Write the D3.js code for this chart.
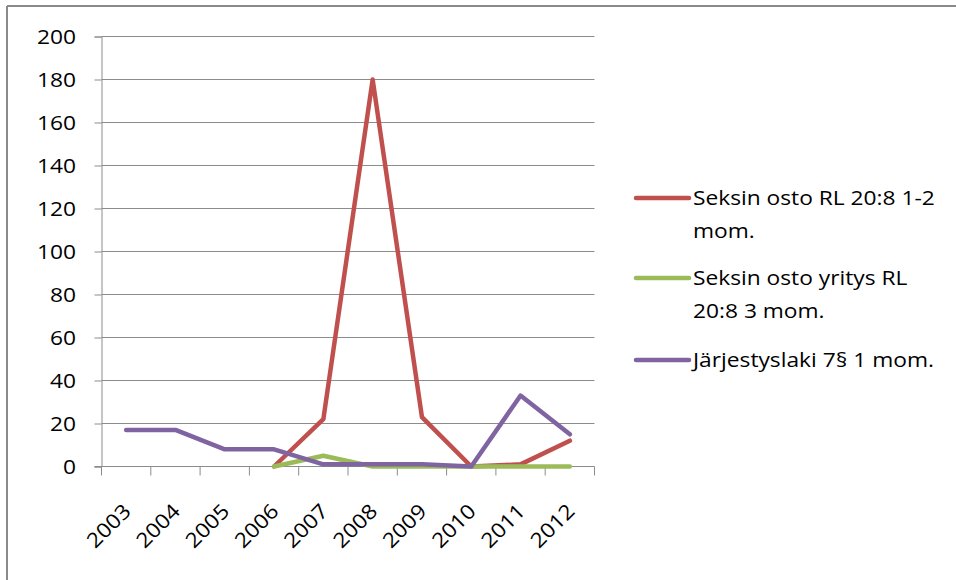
<!DOCTYPE html>
<html><head><meta charset="utf-8">
<script src="https://cdn.jsdelivr.net/npm/d3@7"></script>
<style>
html,body{margin:0;padding:0;background:#fff;}
svg{display:block;}
text{font-family:"Open Sans","Noto Sans",sans-serif;fill:#000;}
</style></head>
<body>
<script>
const years = ["2003","2004","2005","2006","2007","2008","2009","2010","2011","2012"];
const seriesNames = ["Seksin osto RL 20:8 1-2 mom.", "Seksin osto yritys RL 20:8 3 mom.", "Järjestyslaki 7§ 1 mom."];
const legendLines = [["Seksin osto RL 20:8 1-2","mom."],["Seksin osto yritys RL","20:8 3 mom."],["Järjestyslaki 7§ 1 mom."]];
const seksinOsto = [null,null,null,0,22,180,23,0,1,12];
const seksinOstoYritys = [null,null,null,0,5,0,0,0,0,0];
const jarjestyslaki = [17,17,8,8,1,1,1,0,33,15];
const colors = ["#C0504D","#9BBB59","#8064A2"];
const yTicks = [0,20,40,60,80,100,120,140,160,180,200];

(function(){
const W=956,H=580,FS=20.5,SX=1.11;
const svg=d3.select("body").append("svg").attr("width",W).attr("height",H);
svg.append("rect").attr("width",W).attr("height",H).attr("fill","#fff");
svg.append("line").attr("x1",7).attr("x2",W).attr("y1",6).attr("y2",6).attr("stroke","#8a8a8a").attr("stroke-width",2);
svg.append("line").attr("x1",7).attr("x2",7).attr("y1",6).attr("y2",H).attr("stroke","#8a8a8a").attr("stroke-width",2);

const pl=101.5,pr=594.5,pt=36.5,pb=466.5;
const x=d3.scaleBand().domain(years).range([pl,pr]);
const y=d3.scaleLinear().domain([0,200]).range([pb,pt]);

svg.append("g").selectAll("line").data(yTicks.filter(d=>d>0)).join("line")
  .attr("x1",pl).attr("x2",pr).attr("y1",d=>y(d)).attr("y2",d=>y(d))
  .attr("stroke","#8c8c8c").attr("stroke-width",1);

const yAxis=d3.axisLeft(y).tickValues(yTicks).tickSize(7).tickPadding(17);
const gy=svg.append("g").attr("transform",`translate(${pl},0)`).call(yAxis);
gy.select(".domain").attr("stroke","#8c8c8c");
gy.selectAll(".tick line").attr("stroke","#8c8c8c");
gy.selectAll("text").attr("x",0).attr("transform",`translate(-25.5,0) scale(${SX},1)`)
  .attr("font-size",FS).attr("font-family",'"Open Sans",sans-serif').attr("fill","#000");

const xAxis=d3.axisBottom(x).tickSize(0).tickFormat("");
const gx=svg.append("g").attr("transform",`translate(0,${pb})`).call(xAxis);
gx.select(".domain").attr("stroke","#8c8c8c").attr("d",`M${pl-7},0H${pr}`);
const bounds=years.map(d=>x(d)).concat([x(years[years.length-1])+x.bandwidth()]);
gx.selectAll("line.bt").data(bounds).join("line").attr("class","bt")
  .attr("x1",d=>d).attr("x2",d=>d).attr("y1",0).attr("y2",9).attr("stroke","#8c8c8c");
gx.selectAll("text.xl").data(years).join("text").attr("class","xl")
  .attr("transform",d=>`translate(${x(d)+x.bandwidth()/2+6},46) rotate(-45) scale(${SX},1)`)
  .attr("text-anchor","end").attr("font-size",FS).text(d=>d);

const allSeries=[seksinOsto,seksinOstoYritys,jarjestyslaki];
const line=d3.line().defined(d=>d.v!==null).x(d=>x(d.k)+x.bandwidth()/2).y(d=>y(d.v));
allSeries.forEach((s,i)=>{
  const data=years.map((k,j)=>({k,v:s[j]}));
  svg.append("path").datum(data).attr("d",line).attr("fill","none")
    .attr("stroke",colors[i]).attr("stroke-width",4.5).attr("stroke-linejoin","round").attr("stroke-linecap","round");
});

const legY=[198,278,360];
legendLines.forEach((lines,i)=>{
  const g=svg.append("g");
  g.append("line").attr("x1",636).attr("x2",689).attr("y1",legY[i]).attr("y2",legY[i])
    .attr("stroke",colors[i]).attr("stroke-width",4.5).attr("stroke-linecap","round");
  lines.forEach((t,j)=>{
    g.append("text").attr("transform",`translate(693,${legY[i]+7+j*33}) scale(${SX},1)`)
      .attr("font-size",FS).text(t);
  });
});
})();
</script>
</body></html>
